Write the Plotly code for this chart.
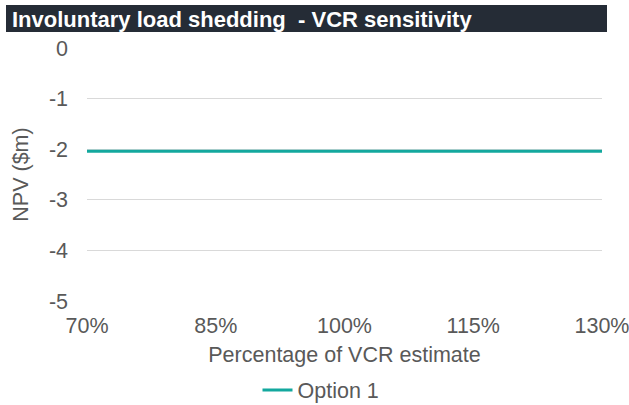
import plotly.graph_objects as go

x_pct = [70, 85, 100, 115, 130]
option1 = [-2.04, -2.04, -2.04, -2.04, -2.04]
x_ticks = [70, 85, 100, 115, 130]
x_tick_labels = ["70%", "85%", "100%", "115%", "130%"]
y_ticks = [0, -1, -2, -3, -4, -5]
y_tick_labels = ["0", "-1", "-2", "-3", "-4", "-5"]

W, H = 629, 405
L, R, T, B = 87, 27, 48, 104
pw, ph = W - L - R, H - T - B

def px_x(p):
    return (p - L) / pw

def px_y(p):
    return 1 + (T - p) / ph

grey = "#595959"
font = "Liberation Sans, Arial, sans-serif"
fs = 21.5

fig = go.Figure()
fig.add_trace(go.Scatter(x=x_pct, y=option1, mode="lines", name="Option 1",
                         line=dict(color="#13A89E", width=3)))

fig.update_layout(
    width=W, height=H,
    margin=dict(l=L, r=R, t=T, b=B, autoexpand=False),
    paper_bgcolor="white", plot_bgcolor="white",
    font=dict(family=font, size=fs, color=grey),
    showlegend=True,
    legend=dict(orientation="h", x=px_x(321), xanchor="center", y=px_y(390), yanchor="middle",
                font=dict(size=fs, color=grey), itemwidth=30, tracegroupgap=0),
    xaxis=dict(range=[70, 130], tickvals=x_ticks, ticktext=x_tick_labels,
               showgrid=False, zeroline=False, showline=False, ticks="",
               ticklabelstandoff=9, automargin=False, ticklabeloverflow="allow",
               title=dict(text="Percentage of VCR estimate", standoff=10,
                          font=dict(size=fs, color=grey))),
    yaxis=dict(range=[-5, 0], tickvals=y_ticks, ticktext=y_tick_labels,
               showgrid=True, gridcolor="#D9D9D9",
               gridwidth=1, zeroline=False, showline=False, ticks="",
               ticklabelstandoff=18, automargin=False,
               title=dict(text="NPV ($m)", standoff=14, font=dict(size=fs, color=grey))),
    shapes=[dict(type="rect", xref="paper", yref="paper",
                 x0=px_x(6), x1=px_x(607), y0=px_y(32), y1=px_y(5),
                 fillcolor="#252C36", line=dict(width=0), layer="above")],
    annotations=[dict(text="<b>Involuntary load shedding  - VCR sensitivity</b>",
                      xref="paper", yref="paper", x=px_x(10), y=px_y(19),
                      xanchor="left", yanchor="middle", showarrow=False,
                      font=dict(family=font, size=22, color="white"))],
)

fig.write_html("out.html",
               config={"displayModeBar": False},
               post_script="document.body.style.margin='0';document.body.style.overflow='hidden';")
